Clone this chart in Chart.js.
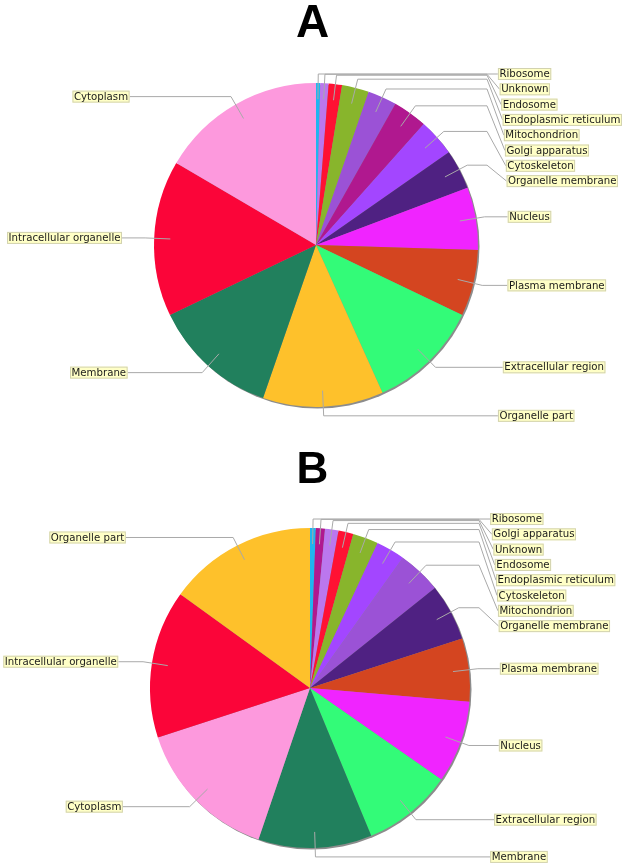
<!DOCTYPE html>
<html>
<head>
<meta charset="utf-8">
<script src="https://cdn.jsdelivr.net/npm/chart.js@4.4.1/dist/chart.umd.min.js"></script>
<style>
    body { margin: 0; background: #fff; }
    #page { position: relative; width: 625px; height: 868px; overflow: hidden; }
    .panel { position: absolute; left: 0; width: 625px; height: 434px; }
    .title { position: absolute; left: 0; width: 625px; text-align: center; font-family: "Liberation Sans", Arial, sans-serif; font-weight: bold; color: #000; }
</style>
</head>
<body>
<div id="page">
    <div class="panel" style="top:0"><canvas id="chartA" width="625" height="434"></canvas></div>
    <div class="panel" style="top:434px"><canvas id="chartB" width="625" height="434"></canvas></div>
    <div class="title" style="top:-2px; font-size:46px; line-height:46px;">A</div>
    <div class="title" style="top:446px; font-size:44px; line-height:44px;">B</div>
</div>
<script>
// cellular component share (%), sorted smallest to largest
const labelsA = ["Ribosome", "Unknown", "Endosome", "Endoplasmic reticulum", "Mitochondrion",
    "Golgi apparatus", "Cytoskeleton", "Organelle membrane", "Nucleus", "Plasma membrane",
    "Extracellular region", "Organelle part", "Membrane", "Intracellular organelle", "Cytoplasm"];
const valuesA = [0.42, 0.83, 1.33, 2.69, 2.89, 3.42, 3.72, 3.94, 6.25, 6.61, 11.17, 12.03, 12.58, 15.56, 16.56];

const labelsB = ["Ribosome", "Golgi apparatus", "Unknown", "Endosome", "Endoplasmic reticulum",
    "Cytoskeleton", "Mitochondrion", "Organelle membrane", "Plasma membrane", "Nucleus",
    "Extracellular region", "Membrane", "Cytoplasm", "Intracellular organelle", "Organelle part"];
const valuesB = [0.58, 0.92, 1.36, 1.50, 2.58, 2.92, 4.39, 5.75, 6.36, 8.33, 9.06, 11.47, 14.78, 14.97, 15.03];

const categoryColors = {
    "Ribosome": "#1fb5f0",
    "Unknown": "#bb77ee",
    "Endosome": "#ff1133",
    "Endoplasmic reticulum": "#88b52c",
    "Mitochondrion": "#9b52d6",
    "Golgi apparatus": "#b0188f",
    "Cytoskeleton": "#a346ff",
    "Organelle membrane": "#4f2182",
    "Nucleus": "#f024ff",
    "Plasma membrane": "#d44520",
    "Extracellular region": "#33fb78",
    "Organelle part": "#fec12b",
    "Membrane": "#21805d",
    "Intracellular organelle": "#fb0539",
    "Cytoplasm": "#fd99dd"
};

document.addEventListener("DOMContentLoaded", function() {

    // gray rim under the pie + boxed labels with elbow leader lines
    const calloutPlugin = {
        id: "callouts",
        beforeDatasetsDraw(chart) {
            const ctx = chart.ctx;
            const arc = chart.getDatasetMeta(0).data[0];
            ctx.save();
            ctx.fillStyle = "#8c8c8c";
            ctx.beginPath();
            ctx.arc(arc.x + 1.5, arc.y + 1.5, arc.outerRadius, 0, Math.PI * 2);
            ctx.fill();
            ctx.restore();
        },
        afterDatasetsDraw(chart) {
            const ctx = chart.ctx;
            const arcs = chart.getDatasetMeta(0).data;
            const names = chart.data.labels;

            const items = arcs.map((arc, i) => {
                const mid = (arc.startAngle + arc.endAngle) / 2;
                const r = arc.outerRadius;
                return {
                    text: names[i],
                    cx: arc.x, cy: arc.y, r: r,
                    right: Math.cos(mid) >= 0,
                    lx: arc.x + Math.cos(mid) * r * 0.9,
                    ly: arc.y + Math.sin(mid) * r * 0.9,
                    ex: arc.x + Math.cos(mid) * (r + 9),
                    ey: arc.y + Math.sin(mid) * (r + 9)
                };
            });

            // spread labels on each side so the boxes do not overlap
            [true, false].forEach(side => {
                const group = items.filter(it => it.right === side).sort((a, b) => a.ey - b.ey);
                let prev = -Infinity;
                group.forEach(it => {
                    it.y = Math.max(it.ey, prev + 15.3);
                    prev = it.y;
                });
            });

            ctx.save();
            ctx.font = '10.2px "DejaVu Sans", sans-serif';
            ctx.textBaseline = "middle";
            items.forEach(it => {
                const dy = it.y - it.cy;
                const pull = dy * dy / 2900;
                const w = ctx.measureText(it.text).width + 3;
                const h = 12;
                let boxX, edgeX, anchorX;
                if (it.right) {
                    boxX = it.cx + it.r + 30 - pull;
                    edgeX = boxX;
                    anchorX = it.cx + it.r + 9;
                } else {
                    edgeX = it.cx - it.r - 32 + pull;
                    boxX = edgeX - w;
                    anchorX = it.cx - it.r - 9;
                }

                ctx.strokeStyle = "#a9a9a9";
                ctx.lineWidth = 1;
                ctx.beginPath();
                ctx.moveTo(it.lx, it.ly);
                ctx.lineTo(it.ex, it.ey);
                ctx.lineTo(anchorX, it.ey);
                ctx.lineTo(edgeX, it.y);
                ctx.stroke();

                ctx.fillStyle = "#ffffc6";
                ctx.fillRect(boxX, it.y - h / 2, w, h);
                ctx.strokeStyle = "#d2d2b0";
                ctx.strokeRect(boxX + 0.5, it.y - h / 2 + 0.5, w - 1, h - 1);

                ctx.fillStyle = "#1a1a1a";
                ctx.fillText(it.text, boxX + 1.5, it.y + 0.5);
            });
            ctx.restore();
        }
    };

    function makePie(canvasId, labels, values, padding) {
        const ctx = document.getElementById(canvasId).getContext("2d");
        return new Chart(ctx, {
            type: "pie",
            data: {
                labels: labels,
                datasets: [{
                    data: values,
                    backgroundColor: labels.map(l => categoryColors[l]),
                    borderWidth: 0,
                    hoverOffset: 0
                }]
            },
            options: {
                responsive: false,
                animation: false,
                events: [],
                layout: { padding: padding },
                plugins: {
                    legend: { display: false },
                    tooltip: { enabled: false },
                    title: { display: false }
                }
            },
            plugins: [calloutPlugin]
        });
    }

    makePie("chartA", labelsA, valuesA, { left: 154, right: 147, top: 83, bottom: 27 });
    makePie("chartB", labelsB, valuesB, { left: 150, right: 155, top: 94, bottom: 20 });
});
</script>
</body>
</html>
